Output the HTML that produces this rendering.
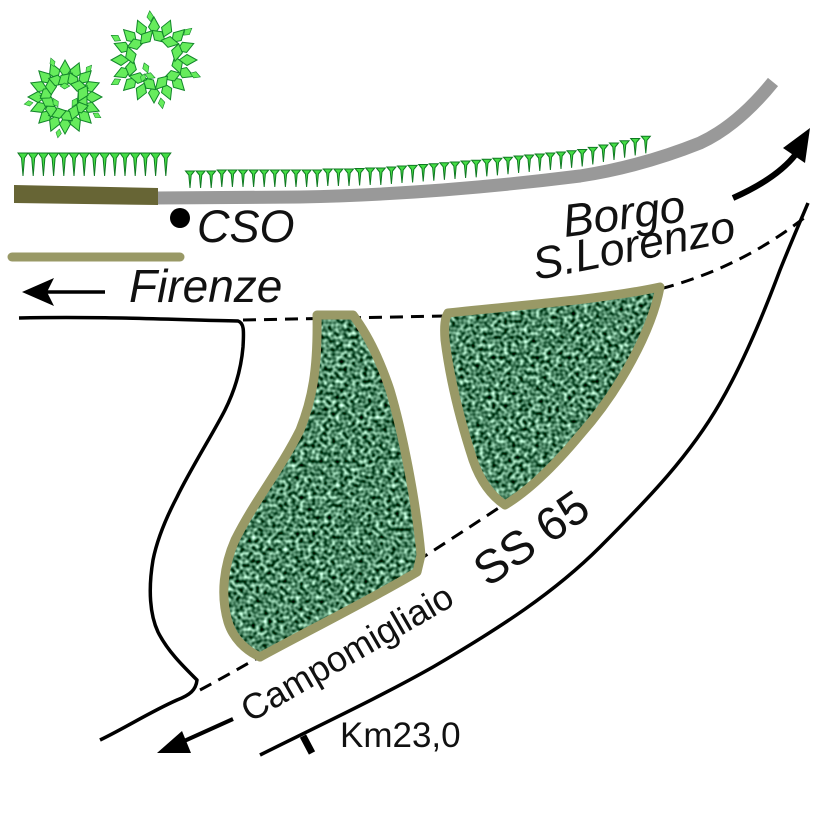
<!DOCTYPE html>
<html><head><meta charset="utf-8"><style>
html,body{margin:0;padding:0;background:#fff;}
svg{display:block;}
</style></head><body>
<svg width="826" height="826" viewBox="0 0 826 826" xmlns="http://www.w3.org/2000/svg">
<defs>
<filter id="tex" x="0%" y="0%" width="100%" height="100%" color-interpolation-filters="sRGB">
<feTurbulence type="fractalNoise" baseFrequency="0.25" numOctaves="1" seed="7" result="n"/>
<feColorMatrix in="n" type="matrix" values="1.8 0 0 0 -0.6  1.8 0 0 0 -0.37  1.8 0 0 0 -0.5  0 0 0 0 1" result="c"/>
<feComposite in="c" in2="SourceGraphic" operator="in"/>
</filter>
<path id="lf" d="M-9,0 L-1,-5.5 L9,0 L-1,5.5 Z"/>
<path id="spL" d="M-5,0 L5,0 L1.5,5 L0,23 L-1.5,5 Z"/>
<path id="sp" d="M-4.5,0 L4.5,0 L1.2,4 L0,17 L-1.2,4 Z"/>
<path id="s1" d="M317,315 L353,315 C368,335 380,360 390,390 C402,430 416,500 421,555 L417,572 C370,600 300,635 260,657 C245,650 233,638 228,622 C220,595 224,565 235,540 C255,500 280,470 300,430 C312,400 318,370 317,315 Z"/>
<path id="s2" d="M448,313 C520,305 600,300 660,287 C652,330 620,390 580,435 C555,465 530,490 505,505 C490,495 480,480 473,460 C460,420 450,380 445,340 C444,325 445,318 448,313 Z"/>
</defs>

<!-- trees -->
<g fill="#66ec5c" stroke="#12862a" stroke-width="1">
<g transform="translate(154,60)">
<use href="#lf" transform="rotate(0) translate(34,0)"/>
<use href="#lf" transform="rotate(22.5) translate(34,0)"/>
<use href="#lf" transform="rotate(45) translate(34,0)"/>
<use href="#lf" transform="rotate(67.5) translate(34,0)"/>
<use href="#lf" transform="rotate(90) translate(34,0)"/>
<use href="#lf" transform="rotate(112.5) translate(34,0)"/>
<use href="#lf" transform="rotate(135) translate(34,0)"/>
<use href="#lf" transform="rotate(157.5) translate(34,0)"/>
<use href="#lf" transform="rotate(180) translate(34,0)"/>
<use href="#lf" transform="rotate(202.5) translate(34,0)"/>
<use href="#lf" transform="rotate(225) translate(34,0)"/>
<use href="#lf" transform="rotate(247.5) translate(34,0)"/>
<use href="#lf" transform="rotate(270) translate(34,0)"/>
<use href="#lf" transform="rotate(292.5) translate(34,0)"/>
<use href="#lf" transform="rotate(315) translate(34,0)"/>
<use href="#lf" transform="rotate(337.5) translate(34,0)"/>
<use href="#lf" transform="rotate(12) translate(24,0) rotate(60)"/>
<use href="#lf" transform="rotate(42) translate(24,0) rotate(120)"/>
<use href="#lf" transform="rotate(72) translate(24,0) rotate(60)"/>
<use href="#lf" transform="rotate(102) translate(24,0) rotate(120)"/>
<use href="#lf" transform="rotate(132) translate(24,0) rotate(60)"/>
<use href="#lf" transform="rotate(162) translate(24,0) rotate(120)"/>
<use href="#lf" transform="rotate(192) translate(24,0) rotate(60)"/>
<use href="#lf" transform="rotate(222) translate(24,0) rotate(120)"/>
<use href="#lf" transform="rotate(252) translate(24,0) rotate(60)"/>
<use href="#lf" transform="rotate(282) translate(24,0) rotate(120)"/>
<use href="#lf" transform="rotate(312) translate(24,0) rotate(60)"/>
<use href="#lf" transform="rotate(342) translate(24,0) rotate(120)"/>
<use href="#lf" transform="rotate(20) translate(44,0) scale(0.6)"/>
<use href="#lf" transform="rotate(80) translate(44,0) scale(0.6)"/>
<use href="#lf" transform="rotate(150) translate(44,0) scale(0.6)"/>
<use href="#lf" transform="rotate(210) translate(44,0) scale(0.6)"/>
<use href="#lf" transform="rotate(265) translate(44,0) scale(0.6)"/>
<use href="#lf" transform="rotate(320) translate(44,0) scale(0.6)"/>
<use href="#lf" transform="translate(-8,8) rotate(70) scale(0.6)"/>
<use href="#lf" transform="translate(-4,16) rotate(20) scale(0.6)"/>
<use href="#lf" transform="translate(-11,18) rotate(110) scale(0.5)"/>
</g>
<g transform="translate(65,97)">
<use href="#lf" transform="rotate(0) translate(28,0)"/>
<use href="#lf" transform="rotate(22.5) translate(28,0)"/>
<use href="#lf" transform="rotate(45) translate(28,0)"/>
<use href="#lf" transform="rotate(67.5) translate(28,0)"/>
<use href="#lf" transform="rotate(90) translate(28,0)"/>
<use href="#lf" transform="rotate(112.5) translate(28,0)"/>
<use href="#lf" transform="rotate(135) translate(28,0)"/>
<use href="#lf" transform="rotate(157.5) translate(28,0)"/>
<use href="#lf" transform="rotate(180) translate(28,0)"/>
<use href="#lf" transform="rotate(202.5) translate(28,0)"/>
<use href="#lf" transform="rotate(225) translate(28,0)"/>
<use href="#lf" transform="rotate(247.5) translate(28,0)"/>
<use href="#lf" transform="rotate(270) translate(28,0)"/>
<use href="#lf" transform="rotate(292.5) translate(28,0)"/>
<use href="#lf" transform="rotate(315) translate(28,0)"/>
<use href="#lf" transform="rotate(337.5) translate(28,0)"/>
<use href="#lf" transform="rotate(11) translate(18,0) rotate(50)"/>
<use href="#lf" transform="rotate(37) translate(18,0) rotate(130)"/>
<use href="#lf" transform="rotate(63) translate(18,0) rotate(50)"/>
<use href="#lf" transform="rotate(89) translate(18,0) rotate(130)"/>
<use href="#lf" transform="rotate(115) translate(18,0) rotate(50)"/>
<use href="#lf" transform="rotate(141) translate(18,0) rotate(130)"/>
<use href="#lf" transform="rotate(167) translate(18,0) rotate(50)"/>
<use href="#lf" transform="rotate(193) translate(18,0) rotate(130)"/>
<use href="#lf" transform="rotate(219) translate(18,0) rotate(50)"/>
<use href="#lf" transform="rotate(245) translate(18,0) rotate(130)"/>
<use href="#lf" transform="rotate(271) translate(18,0) rotate(50)"/>
<use href="#lf" transform="rotate(297) translate(18,0) rotate(130)"/>
<use href="#lf" transform="rotate(323) translate(18,0) rotate(50)"/>
<use href="#lf" transform="rotate(349) translate(18,0) rotate(130)"/>
<use href="#lf" transform="rotate(30) translate(11,0) rotate(90) scale(0.55)"/>
<use href="#lf" transform="rotate(150) translate(11,0) rotate(90) scale(0.55)"/>
<use href="#lf" transform="rotate(270) translate(11,0) rotate(90) scale(0.55)"/>
<use href="#lf" transform="rotate(30) translate(37,0) scale(0.5)"/>
<use href="#lf" transform="rotate(100) translate(37,0) scale(0.5)"/>
<use href="#lf" transform="rotate(170) translate(37,0) scale(0.5)"/>
<use href="#lf" transform="rotate(250) translate(37,0) scale(0.5)"/>
<use href="#lf" transform="rotate(310) translate(37,0) scale(0.5)"/>
</g>
</g>

<!-- hedges -->
<g fill="#45dd45" stroke="#0f7a22" stroke-width="1">
<use href="#spL" x="23" y="153"/><use href="#spL" x="33.2" y="153"/><use href="#spL" x="43.4" y="153"/><use href="#spL" x="53.6" y="153"/><use href="#spL" x="63.8" y="153"/><use href="#spL" x="74" y="153"/><use href="#spL" x="84.2" y="153"/><use href="#spL" x="94.4" y="153"/><use href="#spL" x="104.6" y="153"/><use href="#spL" x="114.8" y="153"/><use href="#spL" x="125" y="153"/><use href="#spL" x="135.2" y="153"/><use href="#spL" x="145.4" y="153"/><use href="#spL" x="155.6" y="153"/><use href="#spL" x="165.8" y="153"/>
<use href="#sp" x="190" y="171"/><use href="#sp" x="200.6" y="171"/><use href="#sp" x="211.2" y="171"/><use href="#sp" x="221.8" y="170"/><use href="#sp" x="232.4" y="170"/><use href="#sp" x="243" y="170"/><use href="#sp" x="253.6" y="170"/><use href="#sp" x="264.2" y="170"/><use href="#sp" x="274.8" y="170"/><use href="#sp" x="285.4" y="170"/><use href="#sp" x="296" y="170"/><use href="#sp" x="306.6" y="170"/><use href="#sp" x="317.2" y="170"/><use href="#sp" x="327.8" y="169"/><use href="#sp" x="338.4" y="169"/><use href="#sp" x="349" y="169"/><use href="#sp" x="359.6" y="168.5"/><use href="#sp" x="370.2" y="168"/><use href="#sp" x="380.8" y="168"/><use href="#sp" x="391.4" y="167"/><use href="#sp" x="402" y="166"/><use href="#sp" x="412.6" y="165.4"/><use href="#sp" x="423.2" y="164.5"/><use href="#sp" x="433.8" y="163.7"/><use href="#sp" x="444.4" y="162.8"/><use href="#sp" x="455" y="162"/><use href="#sp" x="465.6" y="161"/><use href="#sp" x="476.2" y="160.3"/><use href="#sp" x="486.8" y="159.3"/><use href="#sp" x="497.4" y="158.3"/><use href="#sp" x="508" y="157.2"/><use href="#sp" x="518.6" y="156"/><use href="#sp" x="529.2" y="155"/><use href="#sp" x="539.8" y="154"/><use href="#sp" x="550.4" y="153"/><use href="#sp" x="561" y="152"/><use href="#sp" x="571.6" y="150.8"/><use href="#sp" x="582.2" y="149.5"/><use href="#sp" x="592.8" y="147.4"/><use href="#sp" x="603.4" y="145"/><use href="#sp" x="614" y="143"/><use href="#sp" x="624.6" y="140.7"/><use href="#sp" x="635.2" y="138.5"/><use href="#sp" x="645.8" y="136.3"/>
</g>

<!-- gray road & olive bars -->
<path d="M156,198 L300,197 C400,195 500,186 580,176 C625,169 665,157 700,143 C728,130 752,108 773,82" fill="none" stroke="#999999" stroke-width="13"/>
<path d="M14,185 L158,188 L158,205 L14,203 Z" fill="#676535"/>
<line x1="12" y1="257" x2="180" y2="257" stroke="#999966" stroke-width="9" stroke-linecap="round"/>

<!-- CSO -->
<circle cx="180" cy="218" r="10" fill="#000"/>
<text x="197" y="242" font-family="Liberation Sans, sans-serif" font-style="italic" font-size="45" fill="#111">CSO</text>

<!-- Firenze -->
<line x1="44" y1="292" x2="105" y2="292" stroke="#000" stroke-width="3.5"/>
<polygon points="22,292 54,278 47,292 54,306" fill="#000"/>
<text x="129" y="302" font-family="Liberation Sans, sans-serif" font-style="italic" font-size="46" fill="#111">Firenze</text>

<!-- black road edges -->
<path d="M19,318 C100,316 180,320 238,321 C244,323 244,330 243,347 C241,370 235,390 225,410 C215,430 190,470 177,497 C166,518 157,540 153,560 C148,590 150,615 158,632 C168,652 185,668 197,680 C196,690 190,695 177,700 C150,712 125,728 100,740" fill="none" stroke="#000" stroke-width="3.5" stroke-linejoin="round"/>
<path d="M260,755 C320,725 380,697 433,667 C500,628 555,592 600,547 C650,497 690,455 720,403 C745,360 765,310 780,270 C790,245 800,222 808,203" fill="none" stroke="#000" stroke-width="3.5"/>

<!-- dashed -->
<path d="M243,320 L445,316 Q560,308 660,289 Q740,268 804,218" fill="none" stroke="#000" stroke-width="3" stroke-dasharray="13,8"/>
<path d="M200,690 Q330,620 503,505" fill="none" stroke="#000" stroke-width="3" stroke-dasharray="13,8"/>

<!-- green areas -->
<use href="#s1" fill="#478a6a"/>
<use href="#s1" fill="#478a6a" filter="url(#tex)"/>
<use href="#s1" fill="none" stroke="#999966" stroke-width="9" stroke-linejoin="round"/>
<use href="#s2" fill="#478a6a"/>
<use href="#s2" fill="#478a6a" filter="url(#tex)"/>
<use href="#s2" fill="none" stroke="#999966" stroke-width="9" stroke-linejoin="round"/>

<!-- arrows -->
<path d="M733,198 C760,186 782,172 796,154" fill="none" stroke="#000" stroke-width="6"/>
<polygon points="810,128 783,148 805,163" fill="#000"/>
<line x1="233" y1="719" x2="182" y2="742" stroke="#000" stroke-width="4"/>
<polygon points="157,753 182,731 191,753" fill="#000"/>

<!-- km tick -->
<line x1="303" y1="736" x2="312" y2="753" stroke="#000" stroke-width="7"/>

<!-- labels -->
<text transform="translate(565,237) rotate(-7.5)" font-family="Liberation Sans, sans-serif" font-style="italic" font-size="46" fill="#111">Borgo</text>
<text transform="translate(536,280) rotate(-11)" font-family="Liberation Sans, sans-serif" font-style="italic" font-size="45" fill="#111">S.Lorenzo</text>
<text transform="translate(488,588) rotate(-35)" font-family="Liberation Sans, sans-serif" font-size="47" fill="#111">SS 65</text>
<text transform="translate(250,723) rotate(-30)" font-family="Liberation Sans, sans-serif" font-size="36" fill="#111">Campomigliaio</text>
<text x="340" y="747" font-family="Liberation Sans, sans-serif" font-size="35" fill="#111">Km23,0</text>
</svg>
</body></html>
